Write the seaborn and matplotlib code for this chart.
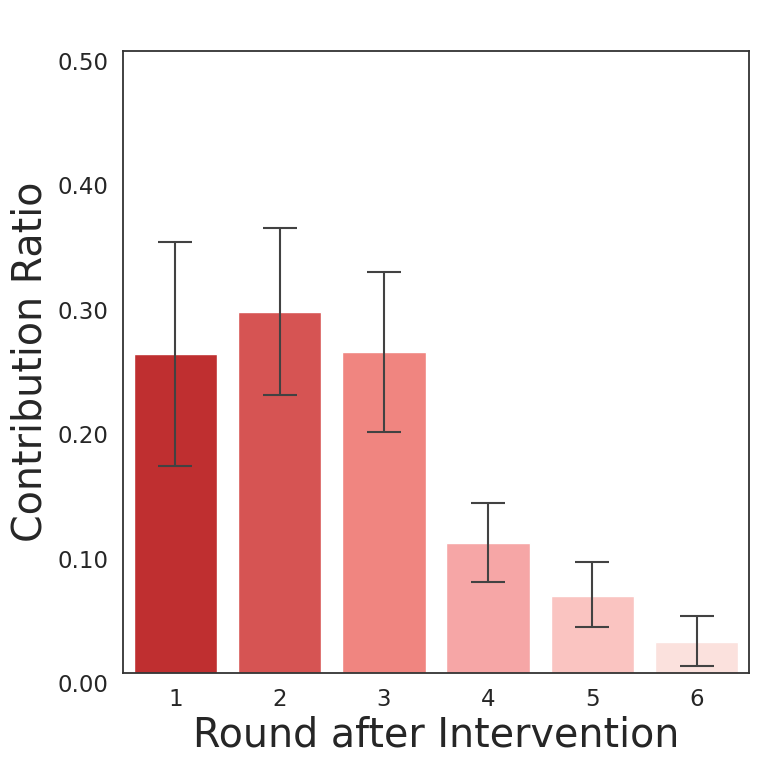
import seaborn as sns
import matplotlib.pyplot as plt
import matplotlib.transforms as mtransforms
import pandas as pd

# data
rounds = ["1", "2", "3", "4", "5", "6"]
ratio = [0.256, 0.290, 0.258, 0.1045, 0.062, 0.0246]
ci_low = [0.166, 0.2234, 0.1939, 0.0734, 0.037, 0.0053]
ci_high = [0.3465, 0.358, 0.3227, 0.1366, 0.0889, 0.0455]
bar_colors = ["#BF2F30", "#D65453", "#F08580", "#F6A6A6", "#FAC4C1", "#FBE1DD"]
yticks = [0.0, 0.1, 0.2, 0.3, 0.4, 0.5]

df = pd.DataFrame({"round": rounds, "ratio": ratio})

sns.set_style("white")
fig = plt.figure(figsize=(7.61, 7.67), dpi=100)
ax = fig.add_axes([0.162, 0.1226, 0.822, 0.811])

sns.barplot(data=df, x="round", y="ratio", hue="round", palette=bar_colors,
            legend=False, errorbar=None, width=0.8, saturation=1, ax=ax)

# error bars from the read CI bounds
xs = range(len(rounds))
yerr = [[r - lo for r, lo in zip(ratio, ci_low)],
        [hi - r for r, hi in zip(ratio, ci_high)]]
ax.errorbar(xs, ratio, yerr=yerr, fmt="none", ecolor="#424242",
            elinewidth=1.5, capsize=11.9, capthick=1.5, zorder=5)

ax.set_xlim(-0.5, len(rounds) - 0.5)
ax.set_ylim(0, 0.5)
ax.set_yticks(yticks)
ax.set_yticklabels([f"{t:.2f}" for t in yticks])
ax.tick_params(axis="both", length=0, pad=10.5, labelsize=16.5, colors="#262626")

offset = mtransforms.ScaledTranslation(0, -10 / 100, fig.dpi_scale_trans)
for lbl in ax.get_yticklabels():
    lbl.set_transform(lbl.get_transform() + offset)

ax.set_xlabel("Round after Intervention", fontsize=28.5, color="#262626", labelpad=3.5)
ax.set_ylabel("Contribution Ratio", fontsize=28.5, color="#262626", labelpad=5)

for s in ax.spines.values():
    s.set_color("#333333")
    s.set_linewidth(1.3)

fig.savefig("out.png", dpi=100)
